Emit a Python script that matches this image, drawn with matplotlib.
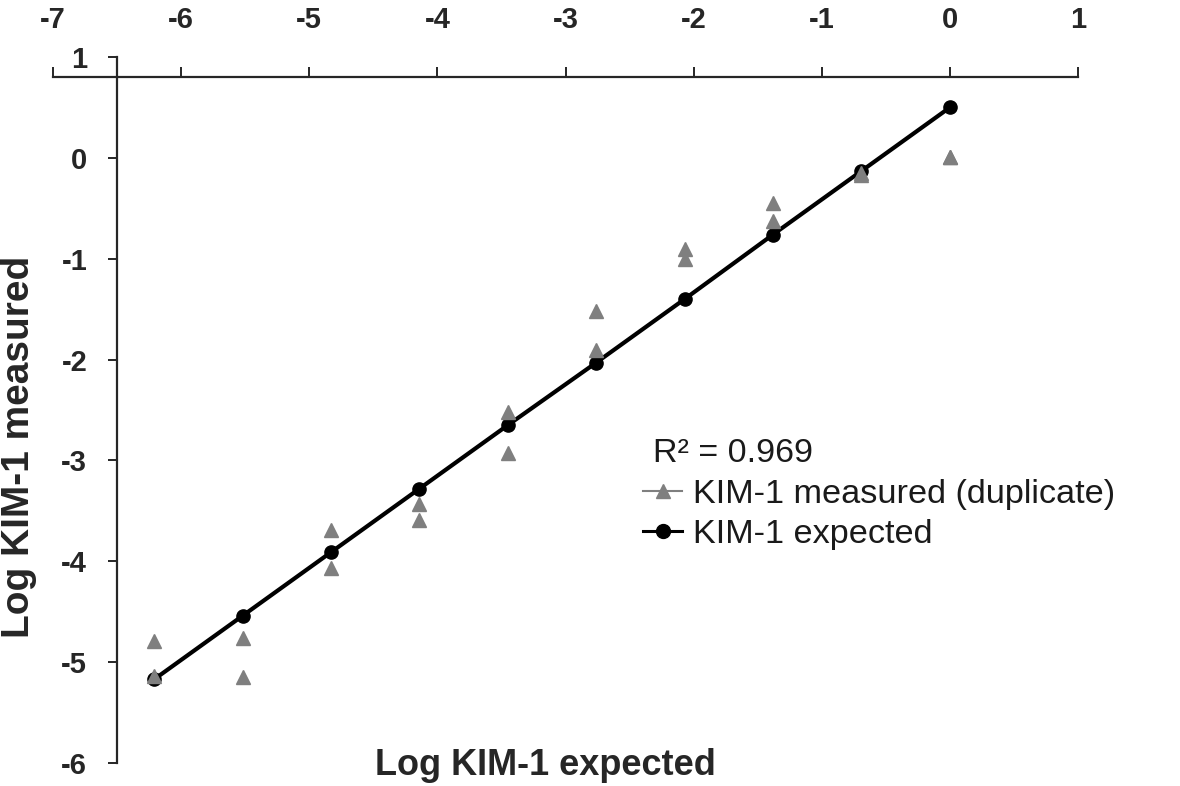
import matplotlib
matplotlib.use('Agg')
import matplotlib.pyplot as plt
from matplotlib.lines import Line2D

# dilution series (log scale)
log_expected_x = [0.0, -0.69, -1.38, -2.07, -2.76, -3.45, -4.14, -4.83, -5.52, -6.21]
kim1_expected = [0.50, -0.13, -0.76, -1.40, -2.03, -2.65, -3.28, -3.91, -4.54, -5.17]
kim1_measured_a = [0.01, -0.15, -0.45, -0.90, -1.52, -2.52, -3.43, -3.69, -4.76, -4.79]
kim1_measured_b = [0.01, -0.17, -0.63, -1.00, -1.91, -2.93, -3.59, -4.07, -5.15, -5.14]
x_ticks = [-7, -6, -5, -4, -3, -2, -1, 0, 1]
y_ticks = [1, 0, -1, -2, -3, -4, -5, -6]
r2_text = "R\u00b2 = 0.969"

W, H = 1180, 786
plt.rcParams['font.family'] = ['Liberation Sans', 'DejaVu Sans']
plt.rcParams['axes.unicode_minus'] = False
dark = '#262626'
gray = '#7f7f7f'

fig = plt.figure(figsize=(W / 100, H / 100), dpi=100)
ax = fig.add_axes([53 / W, 1 - 763 / H, (1078 - 53) / W, (763 - 57) / H])

ax.plot(log_expected_x, kim1_expected, color='black', lw=3.0, marker='o',
        markersize=9.5, zorder=3)
ax.plot(log_expected_x, kim1_measured_a, ls='none', marker='^', color=gray,
        markersize=9.5, zorder=4)
ax.plot(log_expected_x, kim1_measured_b, ls='none', marker='^', color=gray,
        markersize=9.5, zorder=4)

ax.set_xlim(-7, 1)
ax.set_ylim(-6, 1)
ax.set_xticks(x_ticks)
ax.set_yticks(y_ticks)

# Excel-style crossing axes
ax.spines['bottom'].set_visible(False)
ax.spines['right'].set_visible(False)
ax.spines['top'].set_position(('data', 0.8))
ax.spines['left'].set_position(('data', -6.5))
for s in ('top', 'left'):
    ax.spines[s].set_linewidth(1.6)
    ax.spines[s].set_color(dark)

ax.xaxis.set_ticks_position('top')
ax.xaxis.set_label_position('top')
ax.tick_params(axis='x', direction='out', length=7, width=1.4, colors=dark,
               labelsize=21, pad=24)
ax.tick_params(axis='y', direction='out', length=6.5, width=1.4, colors=dark,
               labelsize=21, pad=15)
for lab in ax.get_xticklabels() + ax.get_yticklabels():
    lab.set_fontweight('bold')
ax.patch.set_visible(False)

fig.text(545 / W, 1 - 775 / H, "Log KIM-1 expected", ha='center',
         va='baseline', fontsize=26, fontweight='bold', color=dark)
fig.text(19 / W, 1 - 447 / H, "Log KIM-1 measured", ha='center',
         va='center', rotation=90, fontsize=28, fontweight='bold', color=dark)

fig.text(653 / W, 1 - 462 / H, r2_text, ha='left', va='baseline',
         fontsize=24.5, color='#1a1a1a')

handles = [
    Line2D([], [], color=gray, lw=1.5, marker='^', markersize=10),
    Line2D([], [], color='black', lw=2.2, marker='o', markersize=10),
]
ax.legend(handles, ["KIM-1 measured (duplicate)", "KIM-1 expected"],
          loc='upper left', bbox_to_anchor=(643 / W, 1 - 479 / H),
          bbox_transform=fig.transFigure, frameon=False, fontsize=24.7,
          borderpad=0, borderaxespad=0, handlelength=1.15,
          handletextpad=0.3, labelspacing=0.25, labelcolor='#1a1a1a')

fig.savefig('out.png', dpi=100)
